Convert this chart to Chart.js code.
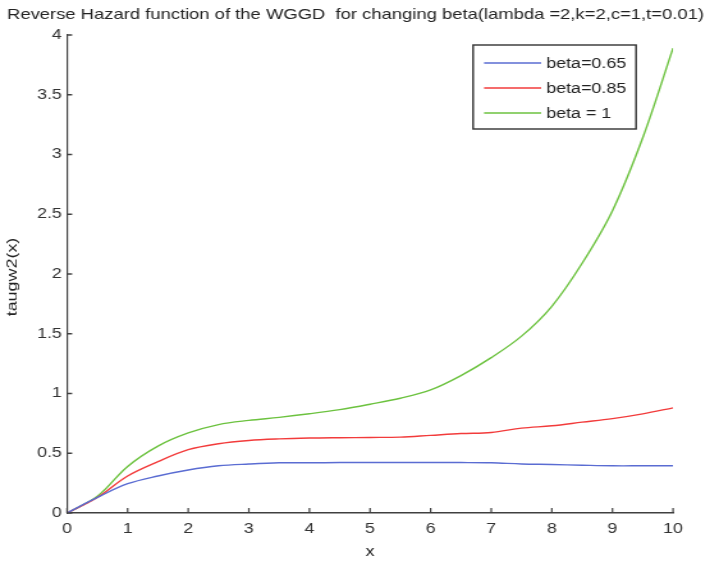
<!DOCTYPE html>
<html>
<head>
<meta charset="utf-8">
<script src="https://cdn.jsdelivr.net/npm/chart.js@4.4.1/dist/chart.umd.min.js"></script>
<style>
  html, body { margin: 0; padding: 0; background: #fff; }
  /* the reference is a horizontally stretched MATLAB figure, so draw narrow and stretch */
  #wrap { width: 555px; height: 562px; transform: scaleX(1.2793); transform-origin: 0 0; }
</style>
</head>
<body>
<div id="wrap"><canvas id="hazardChart"></canvas></div>
<script>
const xValues = [0, 0.5, 1, 1.5, 2, 2.5, 3, 3.5, 4, 4.5, 5, 5.5, 6, 6.5, 7, 7.5, 8, 8.5, 9, 9.5, 10];
const beta065 = [0, 0.13, 0.245, 0.31, 0.36, 0.395, 0.41, 0.42, 0.42, 0.422, 0.422, 0.422, 0.422, 0.422, 0.42, 0.41, 0.406, 0.40, 0.395, 0.395, 0.395];
const beta085 = [0, 0.13, 0.31, 0.43, 0.53, 0.58, 0.607, 0.62, 0.627, 0.63, 0.632, 0.635, 0.65, 0.665, 0.674, 0.71, 0.73, 0.76, 0.79, 0.83, 0.88];
const beta1 = [0, 0.14, 0.39, 0.56, 0.67, 0.74, 0.775, 0.80, 0.83, 0.865, 0.91, 0.96, 1.03, 1.15, 1.30, 1.48, 1.73, 2.09, 2.53, 3.14, 3.89];
const seriesLabels = ['beta=0.65', 'beta=0.85', 'beta = 1'];
const seriesColors = ['#5a6cd2', '#f23b3b', '#6cc23f'];
const xTicks = [0, 1, 2, 3, 4, 5, 6, 7, 8, 9, 10];
const yTicks = [0, 0.5, 1, 1.5, 2, 2.5, 3, 3.5, 4];
const titleText = 'Reverse Hazard function of the WGGD  for changing beta(lambda =2,k=2,c=1,t=0.01)';
const yTitle = 'taugw2(x)';

const STRETCH = 1.2793;
const FONT = '"Liberation Sans", Arial, sans-serif';
const AXIS = '#404040';

const toPoints = (ys) => ys.map((y, i) => ({ x: xValues[i], y: y }));

// MATLAB style: tick marks point into the axes
const inwardTicks = {
    id: 'inwardTicks',
    afterDatasetsDraw(chart) {
        const { ctx, chartArea, scales } = chart;
        ctx.save();
        ctx.strokeStyle = AXIS;
        ctx.lineWidth = 1.2;
        xTicks.forEach(v => {
            const px = scales.x.getPixelForValue(v);
            ctx.beginPath();
            ctx.moveTo(px, chartArea.bottom);
            ctx.lineTo(px, chartArea.bottom - 5);
            ctx.stroke();
        });
        ctx.lineWidth = 1.5;
        yTicks.forEach(v => {
            const py = scales.y.getPixelForValue(v);
            ctx.beginPath();
            ctx.moveTo(chartArea.left, py);
            ctx.lineTo(chartArea.left + 4, py);
            ctx.stroke();
        });
        ctx.restore();
    }
};

const boxLegend = {
    id: 'boxLegend',
    afterDraw(chart) {
        const { ctx, chartArea } = chart;
        const right = chartArea.right - 28.9;
        const w = 127.4, h = 84;
        const left = right - w;
        const top = chartArea.top + 10;
        ctx.save();
        ctx.fillStyle = '#fff';
        ctx.fillRect(left, top, w, h);
        ctx.strokeStyle = '#333';
        ctx.lineWidth = 1.4;
        ctx.strokeRect(left, top, w, h);
        ctx.font = '14px ' + FONT;
        ctx.textBaseline = 'middle';
        chart.data.datasets.forEach((ds, i) => {
            const y = top + 18 + i * 25;
            ctx.strokeStyle = ds.borderColor;
            ctx.lineWidth = 1.5;
            ctx.beginPath();
            ctx.moveTo(left + 8.6, y);
            ctx.lineTo(left + 53.2, y);
            ctx.stroke();
            ctx.fillStyle = '#222';
            ctx.fillText(ds.label, left + 57.1, y + 1);
        });
        ctx.restore();
    }
};

// title and y label drawn by hand: title spans the figure width,
// y label stretched along its length like the reference
const figureText = {
    id: 'figureText',
    afterDraw(chart) {
        const { ctx, chartArea } = chart;
        ctx.save();
        ctx.fillStyle = '#222';
        ctx.textBaseline = 'middle';
        ctx.font = '14px ' + FONT;
        const size = 14 * 545 / ctx.measureText(titleText).width;
        ctx.font = size.toFixed(2) + 'px ' + FONT;
        ctx.textAlign = 'left';
        ctx.fillText(titleText, 5.5, 15);
        ctx.textAlign = 'center';
        ctx.translate(10.2, (chartArea.top + chartArea.bottom) / 2 + 3);
        ctx.rotate(-Math.PI / 2);
        ctx.scale(STRETCH, 1 / STRETCH);
        ctx.font = '14px ' + FONT;
        ctx.fillText(yTitle, 0, 0);
        ctx.restore();
    }
};

new Chart(document.getElementById('hazardChart'), {
    type: 'line',
    data: {
        datasets: [beta065, beta085, beta1].map((ys, i) => ({
            label: seriesLabels[i],
            data: toPoints(ys),
            borderColor: seriesColors[i],
            backgroundColor: seriesColors[i],
            borderWidth: 1.4,
            pointRadius: 0,
            fill: false,
            tension: 0.35
        }))
    },
    options: {
        responsive: true,
        maintainAspectRatio: false,
        animation: false,
        layout: { padding: { left: 0, right: 28.9, top: 35, bottom: 0 } },
        plugins: {
            legend: { display: false },
            tooltip: { enabled: false },
            title: { display: false }
        },
        scales: {
            x: {
                type: 'linear',
                min: 0,
                max: 10,
                afterBuildTicks: (scale) => { scale.ticks = xTicks.map(v => ({ value: v })); },
                afterFit: (scale) => { scale.height = 49; },
                grid: { display: false, drawTicks: false },
                border: { display: true, color: AXIS, width: 1.5 },
                ticks: { color: '#333', padding: 8, font: { family: FONT, size: 14 }, callback: (v) => String(v) },
                title: {
                    display: true,
                    text: 'x',
                    color: '#222',
                    font: { family: FONT, size: 14 },
                    padding: { top: 0, bottom: 1 }
                }
            },
            y: {
                min: 0,
                max: 4,
                afterBuildTicks: (scale) => { scale.ticks = yTicks.map(v => ({ value: v })); },
                afterFit: (scale) => { scale.width = 52.4; },
                grid: { display: false, drawTicks: false },
                border: { display: true, color: AXIS, width: 1.2 },
                ticks: { color: '#333', padding: 4, font: { family: FONT, size: 14 }, callback: (v) => String(v) }
            }
        }
    },
    plugins: [inwardTicks, boxLegend, figureText]
});
</script>
</body>
</html>
